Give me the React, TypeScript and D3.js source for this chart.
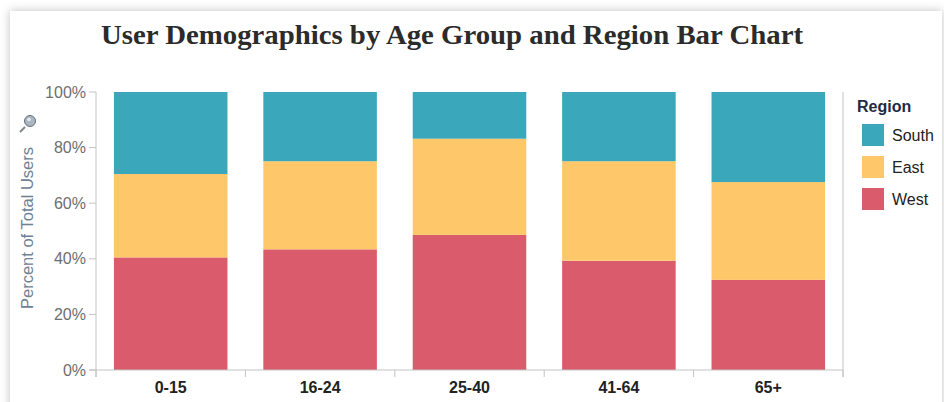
import React from "react";
import * as d3 from "d3";

const categories = ["0-15", "16-24", "25-40", "41-64", "65+"];
const regions = ["South", "East", "West"];
const westValues = [40.5, 43.4, 48.6, 39.3, 32.4];
const eastValues = [30.0, 31.7, 34.6, 35.8, 35.2];
const southValues = [29.5, 24.9, 16.8, 24.9, 32.4];
const yTicks = [0, 0.2, 0.4, 0.6, 0.8, 1.0];
const colors: Record<string, string> = { South: "#3aa8ba", East: "#fec76a", West: "#da5b6b" };

const W = 944;
const H = 402;

export default function App() {
  const rows = categories.map((c, i) => {
    const t = westValues[i] + eastValues[i] + southValues[i];
    return { cat: c, West: westValues[i] / t, East: eastValues[i] / t, South: southValues[i] / t };
  });
  const stack = d3.stack<any>().keys(["West", "East", "South"]);
  const series = stack(rows);

  const x = d3.scaleBand<string>().domain(categories).range([96, 843]).paddingInner(0.24).paddingOuter(0.12);
  const y = d3.scaleLinear().domain([0, 1]).range([370, 92]);
  const step = x.step();
  const boundaries = categories.map((c) => (x(c) as number) - (step * 0.24) / 2).concat([843]);
  const fmt = d3.format(".0%");
  const axisColor = "#c4c4c4";

  return (
    <svg width={W} height={H} style={{ position: "fixed", left: 0, top: 0 }} fontFamily="Arial, 'Liberation Sans', sans-serif">
      <defs>
        <filter id="sh" x="-5%" y="-10%" width="110%" height="120%">
          <feDropShadow dx="0" dy="0" stdDeviation="5" floodColor="#000" floodOpacity="0.25" />
        </filter>
      </defs>
      <rect x={0} y={0} width={W} height={H} fill="#ffffff" />
      <rect x={10} y={11} width={932} height={420} fill="#ffffff" filter="url(#sh)" />
      <text
        x={452}
        y={44}
        textAnchor="middle"
        fontFamily="'Liberation Serif', 'DejaVu Serif', serif"
        fontWeight="bold"
        fontSize={27}
        fill="#2b2b2b"
        textLength={702}
        lengthAdjust="spacingAndGlyphs"
      >
        User Demographics by Age Group and Region Bar Chart
      </text>

      {series.map((s) => (
        <g key={s.key} fill={colors[s.key]}>
          {s.map((d, i) => (
            <rect
              key={i}
              x={x(categories[i])}
              y={y(d[1])}
              width={x.bandwidth()}
              height={y(d[0]) - y(d[1])}
            />
          ))}
        </g>
      ))}

      {/* y axis */}
      <line x1={96} x2={96} y1={92} y2={377} stroke={axisColor} strokeWidth={1} />
      {yTicks.map((t) => (
        <g key={t}>
          <line x1={89} x2={96} y1={y(t)} y2={y(t)} stroke={axisColor} />
          <text x={86} y={y(t)} dy="0.35em" textAnchor="end" fontSize={16} fill="#6e6e6e">
            {fmt(t)}
          </text>
        </g>
      ))}
      {/* x axis */}
      <line x1={89} x2={843} y1={370} y2={370} stroke={axisColor} />
      <line x1={843} x2={843} y1={92} y2={377} stroke={axisColor} />
      {boundaries.map((b, i) => (
        <line key={i} x1={b} x2={b} y1={370} y2={377} stroke={axisColor} />
      ))}
      {categories.map((c) => (
        <text key={c} x={(x(c) as number) + x.bandwidth() / 2} y={387} dy="0.35em" textAnchor="middle" fontSize={16} fontWeight="bold" fill="#222">
          {c}
        </text>
      ))}

      {/* y title */}
      <text transform="translate(33,228) rotate(-90)" textAnchor="middle" fontSize={16.5} fill="#6f8193">
        Percent of Total Users
      </text>
      <g>
        <line x1={25} y1={127} x2={20} y2={132} stroke="#7d848c" strokeWidth={1.8} />
        <circle cx={30} cy={121} r={5.5} fill="#aab6c2" stroke="#66707a" strokeWidth={1} />
        <circle cx={29} cy={119.5} r={1.8} fill="#e6ecf2" />
      </g>

      {/* legend */}
      <text x={857} y={112} fontSize={16} fontWeight="bold" fill="#1f2a44">
        Region
      </text>
      {regions.map((r, i) => (
        <g key={r} transform={`translate(862,${124 + i * 32})`}>
          <rect width={22} height={22} fill={colors[r]} />
          <text x={30} y={11} dy="0.35em" fontSize={16} fill="#222">
            {r}
          </text>
        </g>
      ))}
    </svg>
  );
}
